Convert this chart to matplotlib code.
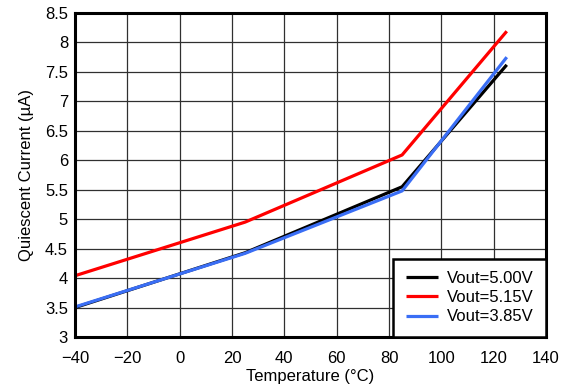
import matplotlib.pyplot as plt

plt.rcParams['font.family'] = ['Liberation Sans', 'DejaVu Sans']

temp = [-40, 25, 85, 125]
iq_500 = [3.50, 4.43, 5.55, 7.62]
iq_515 = [4.04, 4.95, 6.09, 8.19]
iq_385 = [3.51, 4.42, 5.48, 7.75]

labels = ['Vout=5.00V', 'Vout=5.15V', 'Vout=3.85V']
colors = ['#000000', '#ff0000', '#3a6ef5']

fig = plt.figure(figsize=(5.69, 3.9), dpi=100)
ax = fig.add_axes([0.1318, 0.1359, 0.8278, 0.8308])

for y, lab, c in zip([iq_500, iq_515, iq_385], labels, colors):
    ax.plot(temp, y, color=c, lw=2.3, label=lab, solid_capstyle='butt')

ax.set_xlim(-40, 140)
ax.set_ylim(3, 8.5)
ax.set_xticks(range(-40, 141, 20))
ax.set_yticks([3 + 0.5*i for i in range(12)])
ax.set_yticklabels(['3', '3.5', '4', '4.5', '5', '5.5', '6', '6.5', '7', '7.5', '8', '8.5'])
ax.grid(True, color='#303030', lw=0.9)
ax.set_axisbelow(True)
ax.tick_params(length=0, labelsize=12)
ax.tick_params(axis='x', pad=10)
ax.tick_params(axis='y', pad=5)
for s in ax.spines.values():
    s.set_linewidth(2.2)
    s.set_color('black')

ax.set_xlabel('Temperature (\u00b0C)', fontsize=12, labelpad=2)
ax.set_ylabel('Quiescent Current (\u00b5A)', fontsize=12, labelpad=8)

leg = ax.legend(loc='lower right', fontsize=12, frameon=True, fancybox=False,
                borderaxespad=0, handlelength=1.9, labelspacing=0.25,
                borderpad=0.75, handletextpad=0.55)
leg.get_frame().set_edgecolor('black')
leg.get_frame().set_linewidth(1.8)
leg.get_frame().set_alpha(1)

fig.savefig('out.png', dpi=100)
